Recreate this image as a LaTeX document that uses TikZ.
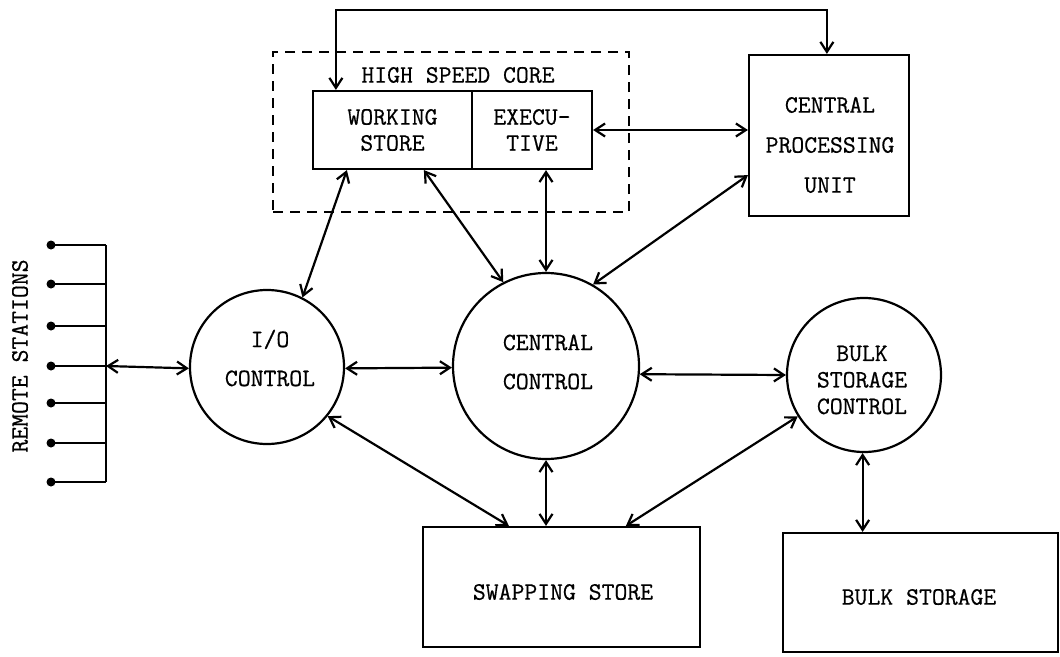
\documentclass[tikz,border=0pt]{standalone}
\usepackage{fontspec}
\setmonofont[FakeBold=0.6]{Latin Modern Mono}
\usetikzlibrary{arrows.meta,calc}

\begin{document}
\begin{tikzpicture}[x=1pt,y=-1pt,
  line width=2.2pt,
  font=\ttfamily\fontsize{25}{26}\selectfont,
  box/.style={draw, rectangle, inner sep=0pt, align=center},
  unit/.style={draw, circle, inner sep=0pt},
  caption/.style={align=center, inner sep=0pt},
  link/.style={{Straight Barb[length=10pt,width=13pt]}-{Straight Barb[length=10pt,width=13pt]}},
  dot/.style={circle, fill, inner sep=0pt, minimum size=9pt}
]
\useasboundingbox (0,0) rectangle (1060,656);

% high speed core
\node[draw, dash pattern=on 10pt off 7pt, line width=2pt, minimum width=356pt, minimum height=160pt] (core) at (451,132) {};
\node[caption] (corelbl) at (458,75) {HIGH SPEED CORE};
\node[box, minimum width=159pt, minimum height=78pt] (ws) at (392.5,130) {WORKING\\STORE};
\node[box, minimum width=120pt, minimum height=78pt] (exec) at (532,130) {EXECU-\\TIVE};

% processing unit
\node[box, minimum width=160pt, minimum height=161pt] (cpu) at (829,135.5) {};
\node[caption] (cputxt) at (830,145) {CENTRAL\\[14pt]PROCESSING\\[14pt]UNIT};

% control units
\node[unit, minimum size=154pt] (io) at (267,367) {};
\node[caption] (iotxt) at (270,358) {I/O\\[13pt]CONTROL};
\node[unit, minimum size=186pt] (cc) at (546,366) {};
\node[caption] (cctxt) at (548,362) {CENTRAL\\[13pt]CONTROL};
\node[unit, minimum size=154pt] (bsc) at (864,375) {};
\node[caption] (bsctxt) at (862,380) {BULK\\[0.5pt]STORAGE\\[0.5pt]CONTROL};

% stores
\node[box, minimum width=277pt, minimum height=120pt] (swap) at (561.5,587) {};
\node[caption] (swaptxt) at (563,592) {SWAPPING STORE};
\node[box, minimum width=275pt, minimum height=119pt] (bs) at (920.5,592.5) {};
\node[caption] (bstxt) at (919,597) {BULK STORAGE};

% remote stations on a common line
\node[caption, rotate=90] (rslbl) at (20,356) {REMOTE STATIONS};
\foreach \y [count=\i] in {245,284,326,366,403,443,482} {
  \node[dot] (rs\i) at (51,\y) {};
  \coordinate (tap\i) at (106,\y);
  \draw (rs\i.center) -- (tap\i);
}
\draw (tap1) -- (tap7);
\draw[link] (tap4) -- (io.181);

% connections
\coordinate (fb) at (600,10);
\draw[link] ($(ws.north west)+(24,0)$) |- (fb) -| ($(cpu.north west)+(79,0)$);
\draw[link] (exec.east) -- (cpu.west |- exec.east);
\draw[link] ($(ws.south west)+(35,0)$) -- (io.63);
\draw[link] ($(ws.south west)+(112,0)$) -- (cc.117.6);
\draw[link] (exec.south -| cc.north) -- (cc.north);
\draw[link] ($(cpu.south west)+(0,-42)$) -- (cc.60);
\draw[link] (io.-1) -- (cc.181);
\draw[link] (cc.-5) -- (bsc.180);
\draw[link] (io.-39) -- ($(swap.north west)+(87,0)$);
\draw[link] (cc.south) -- (cc.south |- swap.north);
\draw[link] (bsc.212) -- ($(swap.north west)+(204,0)$);
\draw[link] (bsc.-91) -- (bsc.-91 |- bs.north);
\end{tikzpicture}
\end{document}
